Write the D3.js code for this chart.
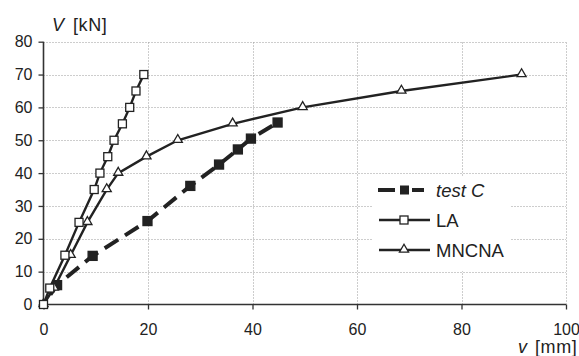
<!DOCTYPE html>
<meta charset="utf-8">
<body style="margin:0;background:#fff">
<script src="https://cdn.jsdelivr.net/npm/d3@7"></script>
<script>

// values: v [mm], V [kN]
var testC_v = [0, 2.6, 9.4, 19.9, 28.1, 33.6, 37.2, 39.7, 44.8],
    testC_V = [0, 5.9, 14.8, 25.4, 36.1, 42.6, 47.2, 50.5, 55.4];
var la_v = [0, 1.2, 4.1, 6.8, 9.7, 10.8, 12.3, 13.5, 15.1, 16.5, 17.7, 19.2],
    la_V = [0, 5, 15, 25, 35, 40, 45, 50, 55, 60, 65, 70];
var mn_v = [0, 2.0, 5.2, 8.4, 12.1, 14.3, 19.7, 25.7, 36.2, 49.6, 68.5, 91.5],
    mn_V = [0, 5, 15, 25, 35, 40, 45, 50, 55, 60, 65, 70];
var xTicks = [0, 20, 40, 60, 80, 100],
    yTicks = [0, 10, 20, 30, 40, 50, 60, 70, 80];

var width = 579, height = 356;
var svg = d3.select("body").append("svg")
    .attr("width", width)
    .attr("height", height)
    .style("font-family", "Liberation Sans, Arial, sans-serif");

var x = d3.scaleLinear().domain([0, 100]).range([43.5, 566]),
    y = d3.scaleLinear().domain([0, 80]).range([304.5, 41.7]);

function zip(a, b) { return a.map(function(d, i) { return [d, b[i]]; }); }

// grid
var grid = svg.append("g")
    .attr("stroke", "#9a9a9a").attr("stroke-width", 1)
    .attr("stroke-dasharray", "1,2");
grid.selectAll(".h").data(yTicks.slice(1)).enter().append("line")
    .attr("x1", x(0)).attr("x2", x(100))
    .attr("y1", function(d) { return Math.round(y(d)) + 0.5; })
    .attr("y2", function(d) { return Math.round(y(d)) + 0.5; });
grid.selectAll(".v").data(xTicks.slice(1)).enter().append("line")
    .attr("y1", y(0)).attr("y2", y(80))
    .attr("x1", function(d) { return Math.round(x(d)) + 0.5; })
    .attr("x2", function(d) { return Math.round(x(d)) + 0.5; });

// axes
var xAxis = d3.axisBottom(x).tickValues(xTicks).tickSize(5).tickPadding(14),
    yAxis = d3.axisLeft(y).tickValues(yTicks).tickSize(5).tickPadding(6);

var gx = svg.append("g").attr("transform", "translate(0," + y(0) + ")").call(xAxis);
var gy = svg.append("g").attr("transform", "translate(" + x(0) + ",0)").call(yAxis);
[gx, gy].forEach(function(g) {
  g.select(".domain").attr("stroke", "#333").attr("stroke-width", 1.6);
  g.selectAll(".tick line").attr("stroke", "#333").attr("stroke-width", 1.3);
  g.selectAll(".tick text").attr("fill", "#222")
      .style("font-size", "16px").style("font-family", "Liberation Sans, Arial, sans-serif");
});
gx.select(".domain").attr("d", "M" + x(0) + ",0H" + x(100));
gy.select(".domain").attr("d", "M0," + y(80) + "V" + y(0));

// legend background (hides grid)
var lg = svg.append("g");
lg.append("rect").attr("x", 372).attr("y", 176).attr("width", 138).attr("height", 95)
    .attr("fill", "#fff");

var line = d3.line().x(function(d) { return x(d[0]); }).y(function(d) { return y(d[1]); });

function square(g, pts, fill, s) {
  g.selectAll("rect.m").data(pts).enter().append("rect")
      .attr("class", "m")
      .attr("x", function(d) { return x(d[0]) - s / 2; })
      .attr("y", function(d) { return y(d[1]) - s / 2; })
      .attr("width", s).attr("height", s)
      .attr("fill", fill).attr("stroke", "#222").attr("stroke-width", 1.3);
}
var tri = d3.symbol().type(d3.symbolTriangle).size(36);
function triangle(g, pts) {
  g.selectAll("path.m").data(pts).enter().append("path")
      .attr("class", "m")
      .attr("transform", function(d) { return "translate(" + x(d[0]) + "," + (y(d[1]) - 0.5) + ")"; })
      .attr("d", tri)
      .attr("fill", "#fff").attr("stroke", "#222").attr("stroke-width", 1.3);
}

// test C
var gc = svg.append("g");
gc.append("path").datum(zip(testC_v, testC_V)).attr("d", line)
    .attr("fill", "none").attr("stroke", "#222").attr("stroke-width", 4)
    .attr("stroke-dasharray", "16,8").attr("stroke-dashoffset", -12);
square(gc, zip(testC_v, testC_V).slice(1), "#222", 9);

// MNCNA
var gm = svg.append("g");
gm.append("path").datum(zip(mn_v, mn_V)).attr("d", line)
    .attr("fill", "none").attr("stroke", "#222").attr("stroke-width", 2.4);
triangle(gm, zip(mn_v, mn_V));

// LA
var gl = svg.append("g");
gl.append("path").datum(zip(la_v, la_V)).attr("d", line)
    .attr("fill", "none").attr("stroke", "#222").attr("stroke-width", 2.4);
square(gl, zip(la_v, la_V), "#fff", 8);

// legend entries
var legendY = [190, 220, 250];
lg.append("line").attr("x1", 378).attr("x2", 395).attr("y1", legendY[0]).attr("y2", legendY[0])
    .attr("stroke", "#222").attr("stroke-width", 4);
lg.append("line").attr("x1", 412).attr("x2", 424).attr("y1", legendY[0]).attr("y2", legendY[0])
    .attr("stroke", "#222").attr("stroke-width", 4);
lg.append("rect").attr("x", 400).attr("y", legendY[0] - 4.5).attr("width", 9).attr("height", 9)
    .attr("fill", "#222");
lg.append("line").attr("x1", 379).attr("x2", 430).attr("y1", legendY[1]).attr("y2", legendY[1])
    .attr("stroke", "#222").attr("stroke-width", 2.4);
lg.append("rect").attr("x", 400).attr("y", legendY[1] - 4).attr("width", 8).attr("height", 8)
    .attr("fill", "#fff").attr("stroke", "#222").attr("stroke-width", 1.3);
lg.append("line").attr("x1", 379).attr("x2", 430).attr("y1", legendY[2]).attr("y2", legendY[2])
    .attr("stroke", "#222").attr("stroke-width", 2.4);
lg.append("path").attr("transform", "translate(404," + (legendY[2] - 0.5) + ")").attr("d", tri)
    .attr("fill", "#fff").attr("stroke", "#222").attr("stroke-width", 1.3);

var names = ["test C", "LA", "MNCNA"];
lg.selectAll("text").data(names).enter().append("text")
    .attr("x", 436)
    .attr("y", function(d, i) { return legendY[i] + 6.7; })
    .style("font-size", "18.5px")
    .style("font-style", function(d, i) { return i == 0 ? "italic" : "normal"; })
    .attr("fill", "#222")
    .text(function(d) { return d; });

// axis titles
var ty = svg.append("text").attr("x", 52).attr("y", 31).style("font-size", "18px")
    .style("letter-spacing", "0.6px").attr("fill", "#222");
ty.append("tspan").style("font-style", "italic").text("V");
ty.append("tspan").attr("x", 73).text("[kN]");
var tx = svg.append("text").attr("x", 518).attr("y", 353)
    .style("font-size", "18px").style("letter-spacing", "0.6px").attr("fill", "#222");
tx.append("tspan").style("font-style", "italic").text("v");
tx.append("tspan").attr("x", 535).text("[mm]");

</script>
</body>
